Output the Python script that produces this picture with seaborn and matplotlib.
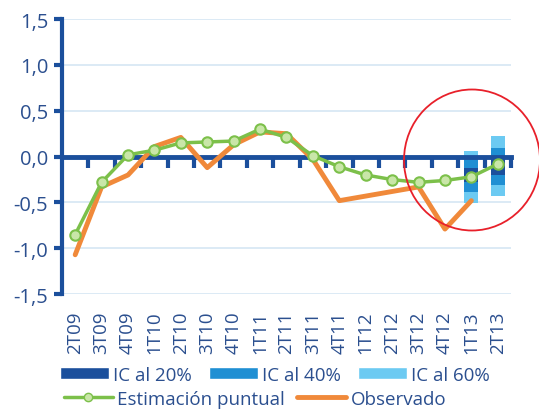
import matplotlib
matplotlib.use("Agg")
import matplotlib.pyplot as plt
from matplotlib.patches import Patch, Ellipse
from matplotlib.lines import Line2D
import numpy as np
import pandas as pd
import seaborn as sns

# ---- data ----
quarters = ["2T09", "3T09", "4T09", "1T10", "2T10", "3T10", "4T10", "1T11", "2T11",
            "3T11", "4T11", "1T12", "2T12", "3T12", "4T12", "1T13", "2T13"]
estimacion = [-0.85, -0.28, 0.02, 0.07, 0.15, 0.16, 0.17, 0.30, 0.21,
              0.01, -0.11, -0.20, -0.25, -0.28, -0.26, -0.22, -0.08]
observado = [-1.07, -0.33, -0.20, 0.11, 0.21, -0.12, 0.13, 0.27, 0.25,
             -0.03, -0.48, -0.43, -0.38, -0.33, -0.79, -0.48, np.nan]
# confidence intervals for the forecast quarters (lower, upper)
ic_quarters = ["1T13", "2T13"]
ic20_low = [-0.28, -0.20]
ic20_high = [-0.12, 0.01]
ic40_low = [-0.39, -0.31]
ic40_high = [-0.01, 0.09]
ic60_low = [-0.51, -0.43]
ic60_high = [0.06, 0.23]
yticks = [-1.5, -1.0, -0.5, 0.0, 0.5, 1.0, 1.5]

# ---- style ----
sns.set_style("white")
plt.rcParams["font.family"] = ["Open Sans", "DejaVu Sans"]

dark = "#1b4f9c"
mid = "#1f8fd3"
light = "#6ccaf2"
green = "#7cc04a"
green_fill = "#c9e6a8"
orange = "#f0893a"
text_c = "#2b4f8f"
grid_c = "#d6e6f4"

fig = plt.figure(figsize=(5.39, 4.10), dpi=100)
ax = fig.add_axes([0.115, 0.280, 0.833, 0.671])

idx = np.arange(len(quarters))
pos = {q: i for i, q in enumerate(quarters)}
ic_x = np.array([pos[q] for q in ic_quarters])

# grid lines
for v in yticks:
    ax.axhline(v, color=grid_c, lw=1.2, zorder=0)

# confidence bands
w = 0.53
ax.bar(ic_x, np.array(ic60_high) - np.array(ic60_low), bottom=ic60_low, width=w,
       color=light, zorder=2, linewidth=0)
ax.bar(ic_x, np.array(ic40_high) - np.array(ic40_low), bottom=ic40_low, width=w,
       color=mid, zorder=3, linewidth=0)
ax.bar(ic_x, np.array(ic20_high) - np.array(ic20_low), bottom=ic20_low, width=w,
       color=dark, zorder=4, linewidth=0)

df = pd.DataFrame({"x": idx, "est": estimacion, "obs": observado})
sns.lineplot(data=df, x="x", y="obs", color=orange, lw=3.5, ax=ax, zorder=6)
sns.lineplot(data=df, x="x", y="est", color=green, lw=2.5, marker="o", markersize=7.5,
             markerfacecolor=green_fill, markeredgecolor=green, markeredgewidth=1.5,
             ax=ax, zorder=7)

ax.set_xlim(-0.5, len(quarters) - 0.5)
ax.set_ylim(-1.5, 1.5)

# zero axis (bottom spine moved to y=0) with category boundary ticks
ax.spines["bottom"].set_position(("data", 0))
ax.spines["bottom"].set_linewidth(3.5)
ax.spines["bottom"].set_color(dark)
ax.spines["bottom"].set_zorder(5)
ax.set_xticks(idx + 0.5)
ax.set_xticklabels([])
ax.tick_params(axis="x", direction="out", length=8, width=3, color=dark, bottom=True)
ax.xaxis.set_zorder(5)

# category labels at the bottom of the plot
sec = ax.secondary_xaxis("bottom")
sec.set_xticks(idx)
sec.set_xticklabels(quarters, rotation=90)
sec.tick_params(axis="x", length=0, labelcolor=text_c, labelsize=13.5, pad=12)
sec.spines["bottom"].set_visible(False)

# y axis
ax.set_yticks(yticks)
ax.set_yticklabels([f"{v:.1f}".replace(".", ",").replace("\u2212", "-") for v in yticks])
ax.tick_params(axis="y", direction="out", length=6, width=3, color=dark,
               labelcolor=text_c, labelsize=14.5, pad=4, left=True)
ax.spines["left"].set_linewidth(3)
ax.spines["left"].set_color(dark)
for s in ["top", "right"]:
    ax.spines[s].set_visible(False)
ax.set_xlabel("")
ax.set_ylabel("")

# legends
h1 = [Patch(facecolor=dark, label="IC al 20%"),
      Patch(facecolor=mid, label="IC al 40%"),
      Patch(facecolor=light, label="IC al 60%")]
fig.legend(handles=h1, loc="center", bbox_to_anchor=(275 / 539, 1 - 376 / 410), ncol=3,
           frameon=False, fontsize=13.5, handlelength=2.6, handleheight=0.6,
           handletextpad=0.25, columnspacing=0.9, labelcolor=text_c,
           borderaxespad=0, borderpad=0)
h2 = [Line2D([], [], color=green, lw=2.5, marker="o", markersize=6,
             markerfacecolor=green_fill, markeredgecolor=green, label="Estimación puntual"),
      Line2D([], [], color=orange, lw=3.5, label="Observado")]
fig.legend(handles=h2, loc="center", bbox_to_anchor=(255 / 539, 1 - 400 / 410), ncol=2,
           frameon=False, fontsize=13.5, handlelength=2.6,
           handletextpad=0.25, columnspacing=0.65, labelcolor=text_c,
           borderaxespad=0, borderpad=0)

# red highlight circle
fig.patches.append(Ellipse((472 / 539, 1 - 161 / 410), width=136 / 539, height=141 / 410,
                           transform=fig.transFigure, fill=False, edgecolor="#e8202a",
                           lw=1.3, zorder=10))

fig.savefig("out.png", dpi=100)
